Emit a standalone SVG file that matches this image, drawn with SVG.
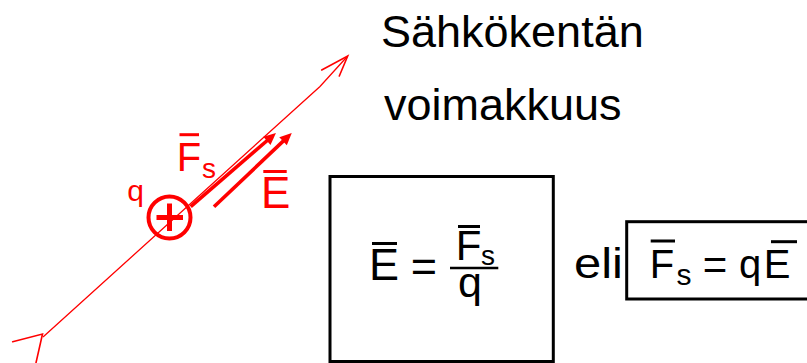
<svg xmlns="http://www.w3.org/2000/svg" width="807" height="363" viewBox="0 0 807 363">
  <defs>
    <style>
      .title { font-family: "Liberation Sans", Arial, sans-serif; font-size: 45px; fill: #000; }
      .blk { font-family: "Liberation Sans", Arial, sans-serif; fill: #000; }
      .red { font-family: "Liberation Sans", Arial, sans-serif; fill: #ff0000; }
      .bar-k { stroke: #000; stroke-width: 3; fill: none; }
      .bar-r { stroke: #ff0000; stroke-width: 3; fill: none; }
      .box { fill: none; stroke: #000; stroke-width: 3; }
      .fieldline { fill: none; stroke: #ff0000; stroke-width: 1.3; }
      .chev { fill: none; stroke: #ff0000; stroke-width: 1.6; stroke-linecap: round; }
      .vec { stroke: #ff0000; stroke-width: 3.6; fill: none; }
    </style>
    <marker id="vhead" markerUnits="userSpaceOnUse" orient="auto" refX="0" refY="0" markerWidth="14" markerHeight="14" viewBox="-3 -7 14 14" overflow="visible">
      <path d="M-2,-5.5 L10,0 L-2,5.5 z" fill="#ff0000"/>
    </marker>
  </defs>

  <rect width="807" height="363" fill="#ffffff"/>

  <g id="title">
    <text class="title" x="381" y="47">Sähkökentän</text>
    <text class="title" x="384" y="120">voimakkuus</text>
  </g>

  <g id="connectors">
    <path class="fieldline" d="M43,337 L320,86.5 L347.7,56"/>
    <polyline class="chev" points="321.7,70 347.7,56 339.3,76"/>
    <polyline class="chev" points="12.7,341.7 42.5,334 36,362.7"/>
    <line id="Fs-arrow" class="vec" x1="190.7" y1="206.7" x2="268.4" y2="139.5" marker-end="url(#vhead)"/>
    <line id="E-arrow" class="vec" x1="214" y1="206.7" x2="284.5" y2="139.9" marker-end="url(#vhead)"/>
  </g>

  <g id="charge">
    <circle cx="169.5" cy="217.5" r="21" fill="none" stroke="#ff0000" stroke-width="4"/>
    <line x1="156.5" y1="217.5" x2="183" y2="217.5" stroke="#ff0000" stroke-width="5"/>
    <line x1="169.5" y1="203.5" x2="169.5" y2="231" stroke="#ff0000" stroke-width="5"/>
    <text class="red" x="135.7" y="201" font-size="30" text-anchor="middle">q</text>
  </g>

  <g id="label-Fs">
    <text class="red" x="189" y="170.5" font-size="40" text-anchor="middle">F</text>
    <line class="bar-r" x1="179.5" y1="134.7" x2="199" y2="134.7"/>
    <text class="red" x="209" y="178" font-size="28" text-anchor="middle">s</text>
  </g>

  <g id="label-E">
    <text class="red" x="275.8" y="208" font-size="44" text-anchor="middle">E</text>
    <line class="bar-r" x1="263.3" y1="171.5" x2="286.7" y2="171.5"/>
  </g>

  <g id="formula-box">
    <rect class="box" x="330" y="176.5" width="223.3" height="185"/>
    <text class="blk" x="384" y="280" font-size="45" text-anchor="middle">E</text>
    <line class="bar-k" x1="372" y1="243.5" x2="397" y2="243.5"/>
    <text class="blk" x="424" y="281" font-size="45" text-anchor="middle">=</text>
    <text class="blk" x="468.5" y="260" font-size="42" text-anchor="middle">F</text>
    <line class="bar-k" x1="458" y1="226.5" x2="480" y2="226.5"/>
    <text class="blk" x="488" y="265" font-size="28" text-anchor="middle">s</text>
    <line x1="450" y1="268" x2="498.3" y2="268" stroke="#000" stroke-width="2.5"/>
    <text class="blk" x="470" y="297" font-size="43" text-anchor="middle">q</text>
  </g>

  <g id="eli">
    <text class="blk" x="574" y="278.3" font-size="43" textLength="49" lengthAdjust="spacingAndGlyphs">eli</text>
  </g>

  <g id="formula-box-2">
    <rect class="box" x="626.7" y="221.7" width="190" height="77.3"/>
    <text class="blk" x="662" y="278.3" font-size="40" text-anchor="middle">F</text>
    <line class="bar-k" x1="650.7" y1="241" x2="675" y2="241"/>
    <text class="blk" x="684" y="285" font-size="30" text-anchor="middle">s</text>
    <text class="blk" x="715" y="279" font-size="42" text-anchor="middle">=</text>
    <text class="blk" x="750" y="278.3" font-size="40" text-anchor="middle">q</text>
    <text class="blk" x="777" y="278.3" font-size="40" text-anchor="middle">E</text>
    <line class="bar-k" x1="771" y1="241.7" x2="797" y2="241.7"/>
  </g>
</svg>
